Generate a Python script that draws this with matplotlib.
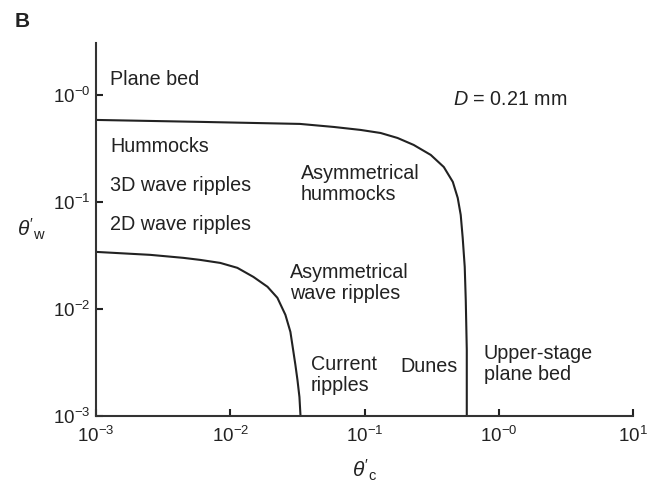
import numpy as np
import matplotlib
matplotlib.use("Agg")
import matplotlib.pyplot as plt

plt.rcParams['font.family'] = ['Liberation Sans', 'DejaVu Sans']
plt.rcParams['mathtext.fontset'] = 'custom'
plt.rcParams['mathtext.rm'] = 'Liberation Sans'
plt.rcParams['mathtext.it'] = 'Liberation Sans:italic'

# upper boundary (plane bed / hummocks / dunes)
upper_x = [0.001, 0.006, 0.033, 0.059, 0.0933, 0.1315, 0.176, 0.232, 0.311, 0.389,
           0.454, 0.494, 0.520, 0.538, 0.557, 0.567, 0.577, 0.577]
upper_y = [0.584, 0.56, 0.536, 0.502, 0.471, 0.441, 0.396, 0.341, 0.275, 0.212,
           0.154, 0.109, 0.0756, 0.0461, 0.0247, 0.0121, 0.00414, 0.001]

# lower boundary (wave ripples / current ripples)
lower_x = [0.001, 0.00253, 0.00446, 0.00597, 0.00841, 0.01127, 0.01485, 0.0189, 0.0224,
           0.0257, 0.0280, 0.0295, 0.0305, 0.0316, 0.0327, 0.0333]
lower_y = [0.0341, 0.032, 0.030, 0.0287, 0.0269, 0.0242, 0.0199, 0.0161, 0.0127,
           0.0088, 0.0061, 0.00396, 0.0030, 0.00217, 0.0015, 0.001]

xticks = [1e-3, 1e-2, 1e-1, 1e0, 1e1]
xticklabels = [r'$10^{-3}$', r'$10^{-2}$', r'$10^{-1}$', r'$10^{-0}$', r'$10^{1}$']
yticks = [1e-3, 1e-2, 1e-1, 1e0]
yticklabels = [r'$10^{-3}$', r'$10^{-2}$', r'$10^{-1}$', r'$10^{-0}$']

# region labels: (text, x, y)
regions = [
    ("Plane bed", 0.00127, 1.38),
    ("Hummocks", 0.00127, 0.327),
    ("3D wave ripples", 0.00127, 0.141),
    ("2D wave ripples", 0.00127, 0.061),
    ("Asymmetrical\nhummocks", 0.0333, 0.147),
    ("Asymmetrical\nwave ripples", 0.028, 0.0175),
    ("Current\nripples", 0.0396, 0.0024),
    ("Dunes", 0.186, 0.0029),
    ("Upper-stage\nplane bed", 0.773, 0.00306),
]

fig = plt.figure(figsize=(6.54, 4.83), dpi=100)
ax = fig.add_axes([0.147, 0.139, 0.821, 0.772])

ax.plot(upper_x, upper_y, color='#222222', lw=1.5, solid_joinstyle='round')
ax.plot(lower_x, lower_y, color='#222222', lw=1.5, solid_joinstyle='round')

ax.set_xscale('log')
ax.set_yscale('log')
ax.set_xlim(1e-3, 10)
ax.set_ylim(1e-3, 3.06)

ax.set_xticks(xticks)
ax.set_xticklabels(xticklabels)
ax.set_yticks(yticks)
ax.set_yticklabels(yticklabels)
ax.minorticks_off()
ax.tick_params(direction='in', length=5, width=1.5, labelsize=13.5, colors='#222222')
ax.tick_params(axis='x', pad=7)
ax.tick_params(axis='y', pad=4)

for s in ['top', 'right']:
    ax.spines[s].set_visible(False)
for s in ['left', 'bottom']:
    ax.spines[s].set_linewidth(1.5)
    ax.spines[s].set_color('#333333')

for txt, x, y in regions:
    ax.text(x, y, txt, fontsize=14.2, color='#222222', ha='left', va='center', linespacing=1.1)

ax.text(0.454, 0.9, r'$D$ = 0.21 mm', fontsize=14.2, color='#222222', ha='left', va='center')

ax.set_ylabel(r"$\theta'_{\mathrm{w}}$", fontsize=15, rotation=0, color='#222222')
ax.yaxis.set_label_coords(-0.12, 0.465)
ax.set_xlabel(r"$\theta'_{\mathrm{c}}$", fontsize=15, color='#222222', labelpad=9)

fig.text(0.023, 0.975, "B", fontsize=15, fontweight='bold', color='#222222', va='top')

fig.savefig("out.png", dpi=100)
